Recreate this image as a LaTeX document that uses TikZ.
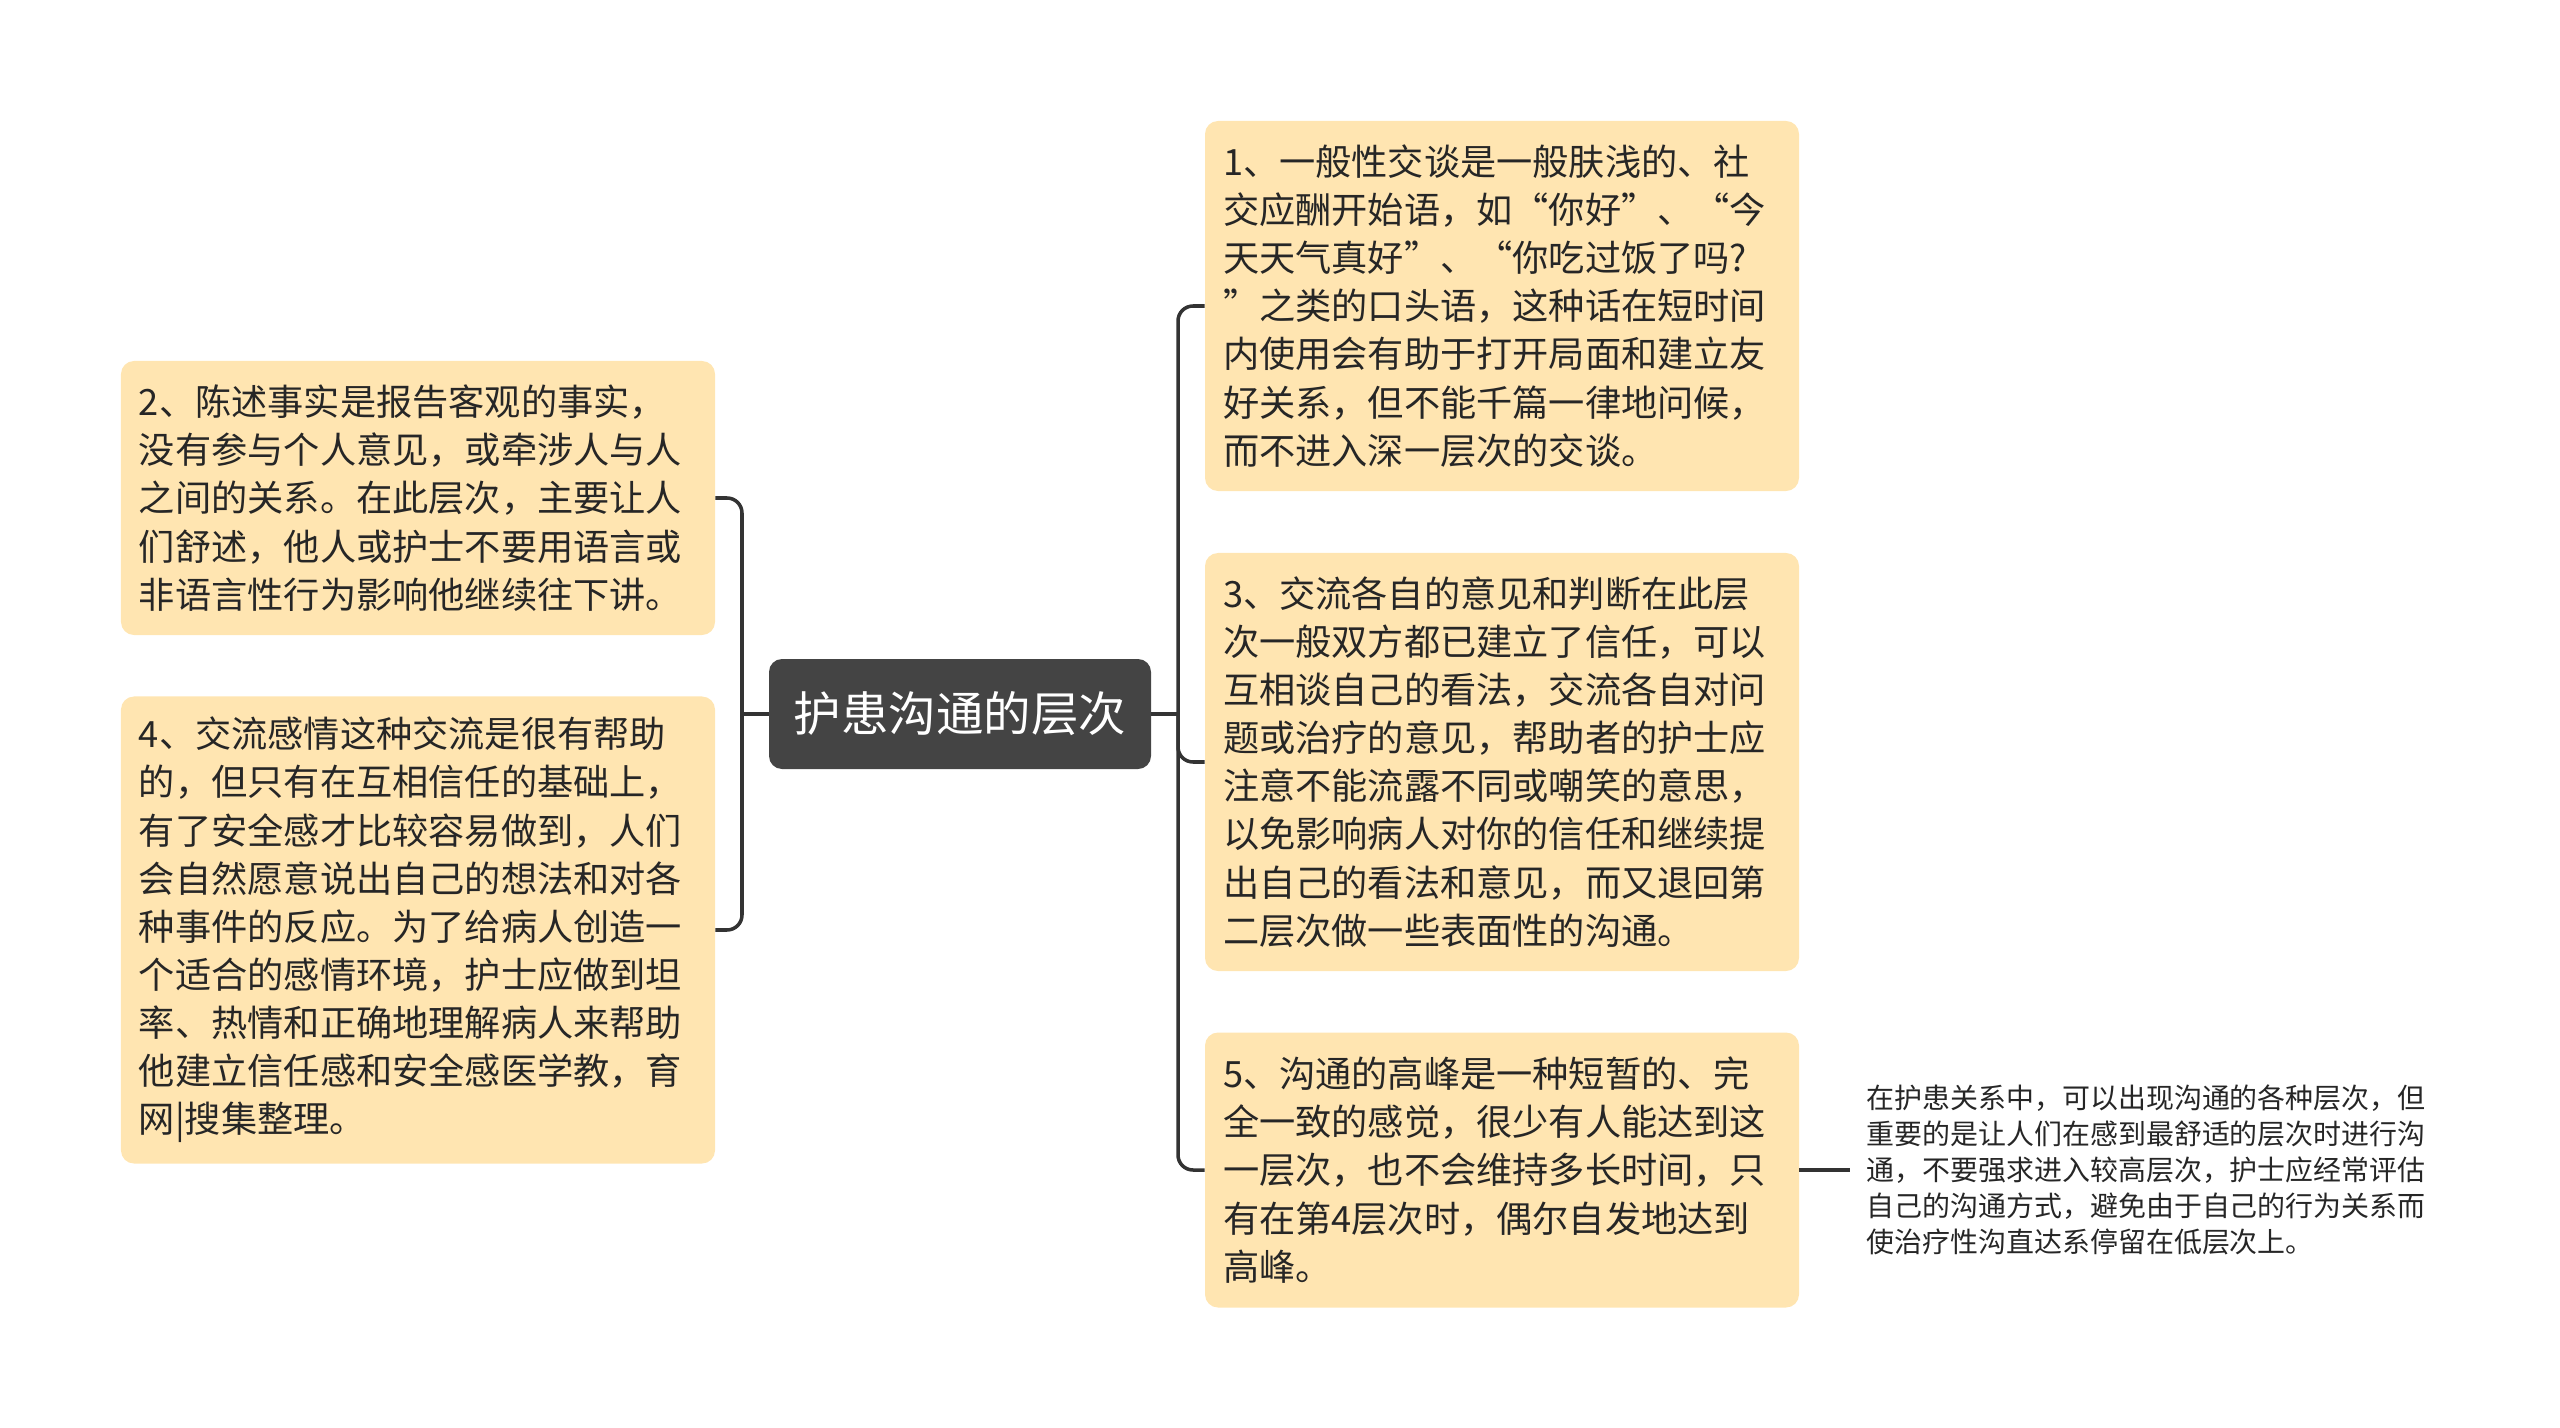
\documentclass[tikz,border=0pt]{standalone}
\usepackage{fontspec}
\setmainfont{Noto Sans CJK SC}
\usetikzlibrary{positioning}

\definecolor{boxfill}{HTML}{FFE5B1}
\definecolor{rootfill}{HTML}{444444}
\definecolor{linecol}{HTML}{333333}
\definecolor{textcol}{HTML}{262626}

\begin{document}
\begin{tikzpicture}[x=0.2mm, y=-0.2mm,
   topic/.style={rectangle, rounded corners=2.6mm, fill=boxfill, text=textcol,
                 align=left, text width=111.6mm, inner xsep=3.6mm, inner ysep=0mm,
                 font=\fontsize{20.6pt}{27.4pt}\selectfont},
   root/.style={rectangle, rounded corners=2.6mm, fill=rootfill, text=white,
                minimum width=76.4mm, minimum height=22mm,
                font=\fontsize{27pt}{32pt}\selectfont},
   note/.style={align=left, text=textcol, inner xsep=3.2mm,
                font=\fontsize{15.9pt}{20.4pt}\selectfont},
   conn/.style={draw=linecol, line width=2pt, rounded corners=3mm}]

   \useasboundingbox (0,0) rectangle (2560,1428);

   % Nodes
      \node[root]  (root)  at (960,714)   {护患沟通的层次};

      \node[topic, minimum height=74mm]  (b1) at (1502,306) {1、一般性交谈是一般肤浅的、社\\
交应酬开始语，如“你好”、“今\\
天天气真好”、“你吃过饭了吗?\\
”之类的口头语，这种话在短时间\\
内使用会有助于打开局面和建立友\\
好关系，但不能千篇一律地问候，\\
而不进入深一层次的交谈。};
      \node[topic, minimum height=83.6mm]  (b3) at (1502,762) {3、交流各自的意见和判断在此层\\
次一般双方都已建立了信任，可以\\
互相谈自己的看法，交流各自对问\\
题或治疗的意见，帮助者的护士应\\
注意不能流露不同或嘲笑的意思，\\
以免影响病人对你的信任和继续提\\
出自己的看法和意见，而又退回第\\
二层次做一些表面性的沟通。};
      \node[topic, minimum height=55mm]  (b5) at (1502,1170) {5、沟通的高峰是一种短暂的、完\\
全一致的感觉，很少有人能达到这\\
一层次，也不会维持多长时间，只\\
有在第4层次时，偶尔自发地达到\\
高峰。};
      \node[topic, minimum height=54.8mm]  (b2) at (418,498) {2、陈述事实是报告客观的事实，\\
没有参与个人意见，或牵涉人与人\\
之间的关系。在此层次，主要让人\\
们舒述，他人或护士不要用语言或\\
非语言性行为影响他继续往下讲。};
      \node[topic, minimum height=93.4mm]  (b4) at (418,930) {4、交流感情这种交流是很有帮助\\
的，但只有在互相信任的基础上，\\
有了安全感才比较容易做到，人们\\
会自然愿意说出自己的想法和对各\\
种事件的反应。为了给病人创造一\\
个适合的感情环境，护士应做到坦\\
率、热情和正确地理解病人来帮助\\
他建立信任感和安全感医学教，育\\
网|搜集整理。};

      \node[note, right=10.2mm of b5]  (n5) {在护患关系中，可以出现沟通的各种层次，但\\
重要的是让人们在感到最舒适的层次时进行沟\\
通，不要强求进入较高层次，护士应经常评估\\
自己的沟通方式，避免由于自己的行为关系而\\
使治疗性沟直达系停留在低层次上。};

      \coordinate (rj) at (1178,714);
      \coordinate (lj) at (742,714);

   % Paths
      \draw[conn] (root.east) -- (rj);
      \draw[conn] (rj) |- (b1.west);
      \draw[conn] (rj) |- (b3.west);
      \draw[conn] (rj) |- (b5.west);
      \draw[conn] (root.west) -- (lj);
      \draw[conn] (lj) |- (b2.east);
      \draw[conn] (lj) |- (b4.east);
      \draw[conn] (b5.east) -- (n5.west);
\end{tikzpicture}
\end{document}
